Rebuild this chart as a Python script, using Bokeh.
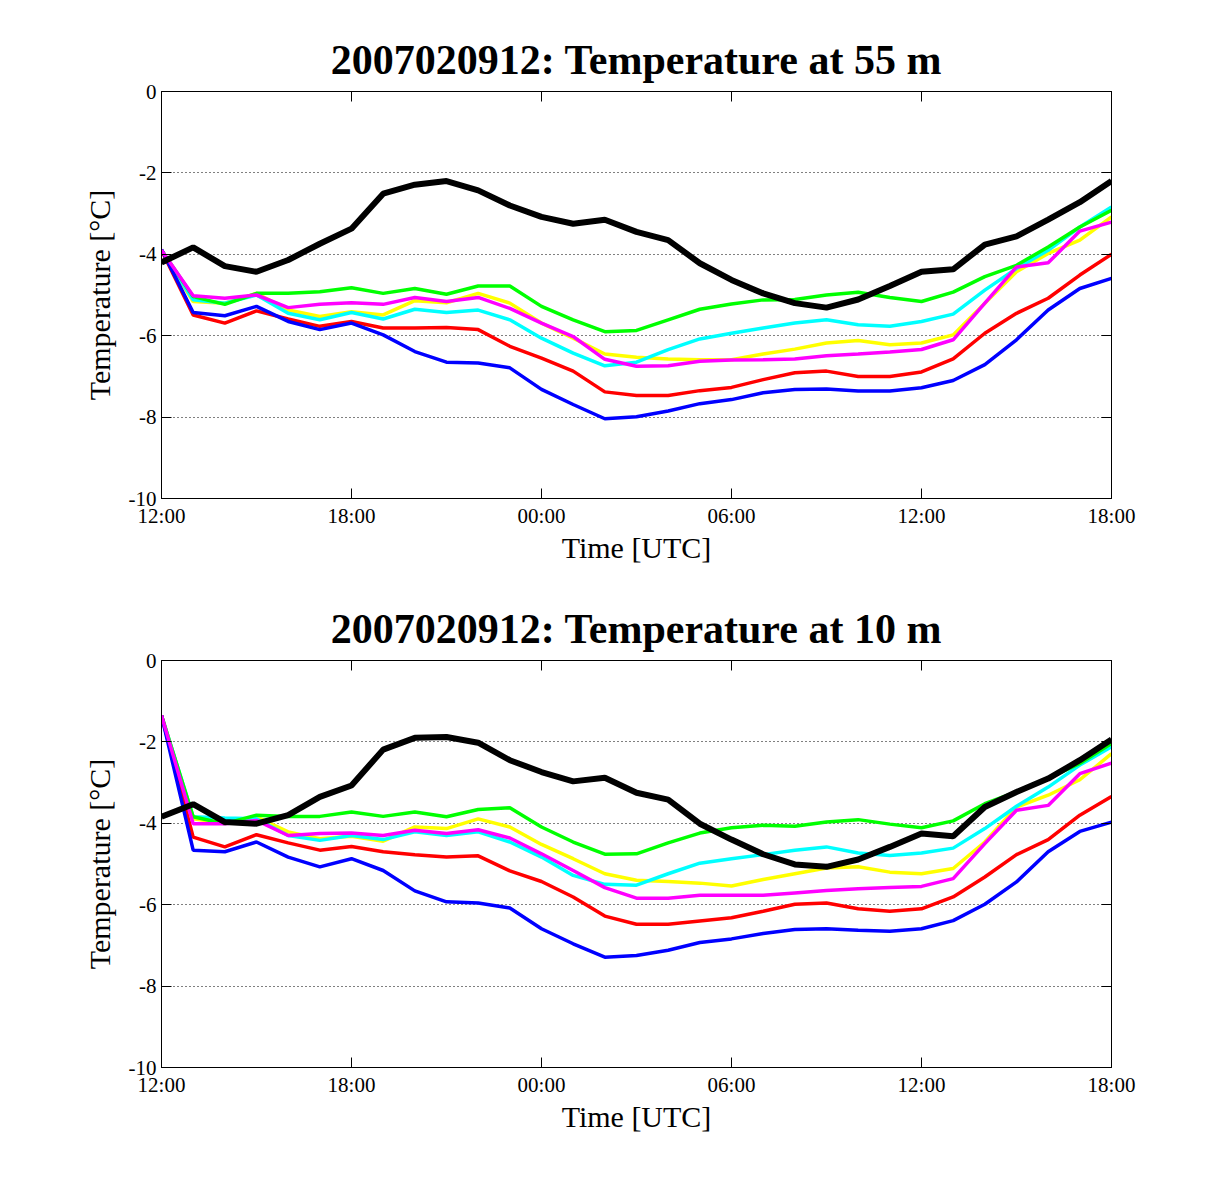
from bokeh.plotting import figure
from bokeh.layouts import column
from bokeh.models import FixedTicker, LinearAxis, Range1d
from bokeh.embed import file_html
from bokeh.resources import INLINE

# hours since 12:00 UTC on day 1
hours = list(range(31))
x_ticks = [0, 6, 12, 18, 24, 30]
x_tick_labels = ["12:00", "18:00", "00:00", "06:00", "12:00", "18:00"]
y_ticks = [-10, -8, -6, -4, -2, 0]
y_tick_labels = ["-10", "-8", "-6", "-4", "-2", "0"]

titles = ["2007020912: Temperature at 55 m", "2007020912: Temperature at 10 m"]

# ---- 55 m ----
t55_black = [-4.20, -3.83, -4.29, -4.43, -4.14, -3.74, -3.37, -2.51, -2.29, -2.20,
             -2.43, -2.80, -3.08, -3.25, -3.15, -3.45, -3.65, -4.22, -4.63, -4.96,
             -5.20, -5.31, -5.11, -4.78, -4.43, -4.37, -3.76, -3.56, -3.15, -2.72, -2.20]
t55_green = [-3.90, -5.04, -5.23, -4.96, -4.96, -4.92, -4.82, -4.96, -4.84, -4.98,
             -4.78, -4.78, -5.28, -5.61, -5.90, -5.87, -5.61, -5.35, -5.22, -5.12,
             -5.11, -5.00, -4.93, -5.06, -5.16, -4.93, -4.55, -4.27, -3.82, -3.33, -2.92]
t55_magenta = [-3.90, -5.02, -5.08, -5.00, -5.31, -5.23, -5.19, -5.23, -5.06, -5.16,
               -5.06, -5.33, -5.69, -6.02, -6.58, -6.75, -6.74, -6.63, -6.60, -6.59,
               -6.57, -6.49, -6.45, -6.40, -6.34, -6.10, -5.20, -4.31, -4.21, -3.43, -3.21]
t55_yellow = [-3.90, -5.16, -5.20, -4.96, -5.37, -5.53, -5.41, -5.49, -5.14, -5.19,
              -4.96, -5.20, -5.69, -6.06, -6.45, -6.53, -6.57, -6.59, -6.59, -6.45,
              -6.33, -6.18, -6.12, -6.22, -6.18, -5.98, -5.20, -4.43, -3.98, -3.65, -3.08]
t55_cyan = [-3.90, -5.12, -5.20, -5.00, -5.45, -5.61, -5.43, -5.59, -5.35, -5.43,
            -5.37, -5.61, -6.06, -6.43, -6.74, -6.65, -6.34, -6.08, -5.94, -5.81,
            -5.69, -5.61, -5.73, -5.77, -5.65, -5.47, -4.88, -4.35, -3.90, -3.33, -2.84]
t55_red = [-3.90, -5.49, -5.69, -5.39, -5.59, -5.77, -5.65, -5.81, -5.81, -5.80,
           -5.85, -6.26, -6.55, -6.87, -7.38, -7.47, -7.47, -7.35, -7.27, -7.08,
           -6.91, -6.87, -7.00, -7.00, -6.89, -6.57, -5.94, -5.45, -5.08, -4.51, -4.00]
t55_blue = [-3.88, -5.43, -5.51, -5.28, -5.65, -5.85, -5.69, -5.98, -6.39, -6.65,
            -6.67, -6.79, -7.32, -7.69, -8.04, -7.99, -7.85, -7.67, -7.57, -7.40,
            -7.32, -7.31, -7.36, -7.36, -7.28, -7.10, -6.71, -6.10, -5.37, -4.84, -4.59]

# ---- 10 m ----
t10_black = [-3.84, -3.53, -3.97, -4.01, -3.80, -3.35, -3.07, -2.19, -1.90, -1.88,
             -2.02, -2.45, -2.74, -2.97, -2.88, -3.25, -3.42, -4.01, -4.40, -4.76,
             -5.01, -5.07, -4.89, -4.58, -4.25, -4.32, -3.60, -3.23, -2.90, -2.45, -1.94]
t10_green = [-1.35, -3.84, -4.01, -3.80, -3.83, -3.83, -3.72, -3.83, -3.72, -3.84,
             -3.66, -3.62, -4.09, -4.46, -4.76, -4.75, -4.48, -4.24, -4.11, -4.05,
             -4.07, -3.97, -3.91, -4.02, -4.11, -3.94, -3.52, -3.23, -2.90, -2.53, -2.04]
t10_magenta = [-1.35, -4.01, -4.01, -3.93, -4.30, -4.25, -4.24, -4.30, -4.17, -4.25,
               -4.16, -4.36, -4.75, -5.16, -5.58, -5.84, -5.84, -5.77, -5.77, -5.77,
               -5.71, -5.65, -5.61, -5.58, -5.55, -5.36, -4.50, -3.68, -3.56, -2.78, -2.52]
t10_yellow = [-1.35, -3.89, -3.99, -3.84, -4.21, -4.38, -4.32, -4.44, -4.09, -4.13,
              -3.89, -4.09, -4.52, -4.87, -5.24, -5.40, -5.43, -5.47, -5.54, -5.38,
              -5.24, -5.10, -5.07, -5.20, -5.24, -5.11, -4.46, -3.60, -3.31, -2.93, -2.29]
t10_cyan = [-1.35, -3.84, -3.87, -3.89, -4.30, -4.42, -4.30, -4.40, -4.21, -4.30,
            -4.21, -4.46, -4.83, -5.28, -5.50, -5.52, -5.24, -4.98, -4.87, -4.77,
            -4.66, -4.58, -4.73, -4.79, -4.73, -4.61, -4.13, -3.58, -3.11, -2.57, -2.12]
t10_red = [-1.35, -4.34, -4.58, -4.28, -4.48, -4.66, -4.57, -4.70, -4.77, -4.83,
           -4.80, -5.17, -5.43, -5.81, -6.28, -6.48, -6.48, -6.40, -6.32, -6.16,
           -5.99, -5.96, -6.10, -6.16, -6.10, -5.81, -5.32, -4.77, -4.40, -3.80, -3.34]
t10_blue = [-1.35, -4.66, -4.70, -4.46, -4.83, -5.07, -4.87, -5.16, -5.66, -5.93,
            -5.96, -6.08, -6.59, -6.96, -7.29, -7.25, -7.12, -6.93, -6.84, -6.71,
            -6.61, -6.59, -6.63, -6.65, -6.59, -6.39, -5.99, -5.44, -4.70, -4.20, -3.97]

colors = ["#ffff00", "#00ffff", "#00ff00", "#ff0000", "#0000ff", "#ff00ff", "#000000"]
series55 = [t55_yellow, t55_cyan, t55_green, t55_red, t55_blue, t55_magenta, t55_black]
series10 = [t10_yellow, t10_cyan, t10_green, t10_red, t10_blue, t10_magenta, t10_black]

FONT = "Liberation Serif"


def make_panel(title, series, border_top):
    p = figure(frame_width=950, frame_height=407,
               x_range=Range1d(0, 30), y_range=Range1d(-10, 0),
               output_backend="svg", toolbar_location=None,
               min_border_left=161, min_border_right=58,
               min_border_top=border_top, min_border_bottom=80,
               background_fill_color="white", border_fill_color="white")
    p.title.text = title
    p.title.text_font = FONT
    p.title.text_font_size = "42px"
    p.title.text_font_style = "bold"
    p.title.align = "center"
    p.title.text_color = "black"
    p.title.standoff = 18

    p.outline_line_color = "black"
    p.outline_line_width = 1
    p.outline_line_alpha = 1

    for ys, c in zip(series, colors):
        lw = 6 if c == "#000000" else 3.5
        p.line(hours, ys, line_color=c, line_width=lw)

    p.xaxis.ticker = FixedTicker(ticks=x_ticks)
    p.xaxis.major_label_overrides = {t: l for t, l in zip(x_ticks, x_tick_labels)}
    p.yaxis.ticker = FixedTicker(ticks=y_ticks)
    p.yaxis.major_label_overrides = {t: l for t, l in zip(y_ticks, y_tick_labels)}
    p.xaxis.axis_label = "Time [UTC]"
    p.yaxis.axis_label = "Temperature [°C]"
    for ax in (p.xaxis[0], p.yaxis[0]):
        ax.axis_label_text_font = FONT
        ax.axis_label_text_font_size = "30px"
        ax.axis_label_text_font_style = "normal"
        ax.axis_label_text_color = "black"
        ax.major_label_text_font = FONT
        ax.major_label_text_font_size = "21px"
        ax.major_label_text_color = "black"
        ax.major_tick_in = 10
        ax.major_tick_out = 0
        ax.minor_tick_line_color = None
        ax.major_tick_line_color = "black"
        ax.axis_line_color = "black"
        ax.major_label_standoff = 5
    p.xaxis.axis_label_standoff = 0
    p.yaxis.axis_label_standoff = 10

    # ticks on top and right (box style)
    for side, tks in (("above", x_ticks), ("right", y_ticks)):
        ax = LinearAxis(ticker=FixedTicker(ticks=tks))
        ax.major_label_overrides = {t: "" for t in tks}
        ax.major_label_text_font_size = "1px"
        ax.major_label_standoff = 0
        ax.major_tick_in = 10
        ax.major_tick_out = 0
        ax.minor_tick_line_color = None
        ax.major_tick_line_color = "black"
        ax.axis_line_color = "black"
        p.add_layout(ax, side)

    p.xgrid.visible = False
    p.ygrid.ticker = FixedTicker(ticks=y_ticks)
    p.ygrid.grid_line_color = "black"
    p.ygrid.grid_line_dash = "1 3"
    p.ygrid.grid_line_width = 1
    return p


p1 = make_panel(titles[0], series55, 91)
p2 = make_panel(titles[1], series10, 82)
layout = column(p1, p2, spacing=0)

open("out.html", "w").write(file_html(layout, INLINE))
